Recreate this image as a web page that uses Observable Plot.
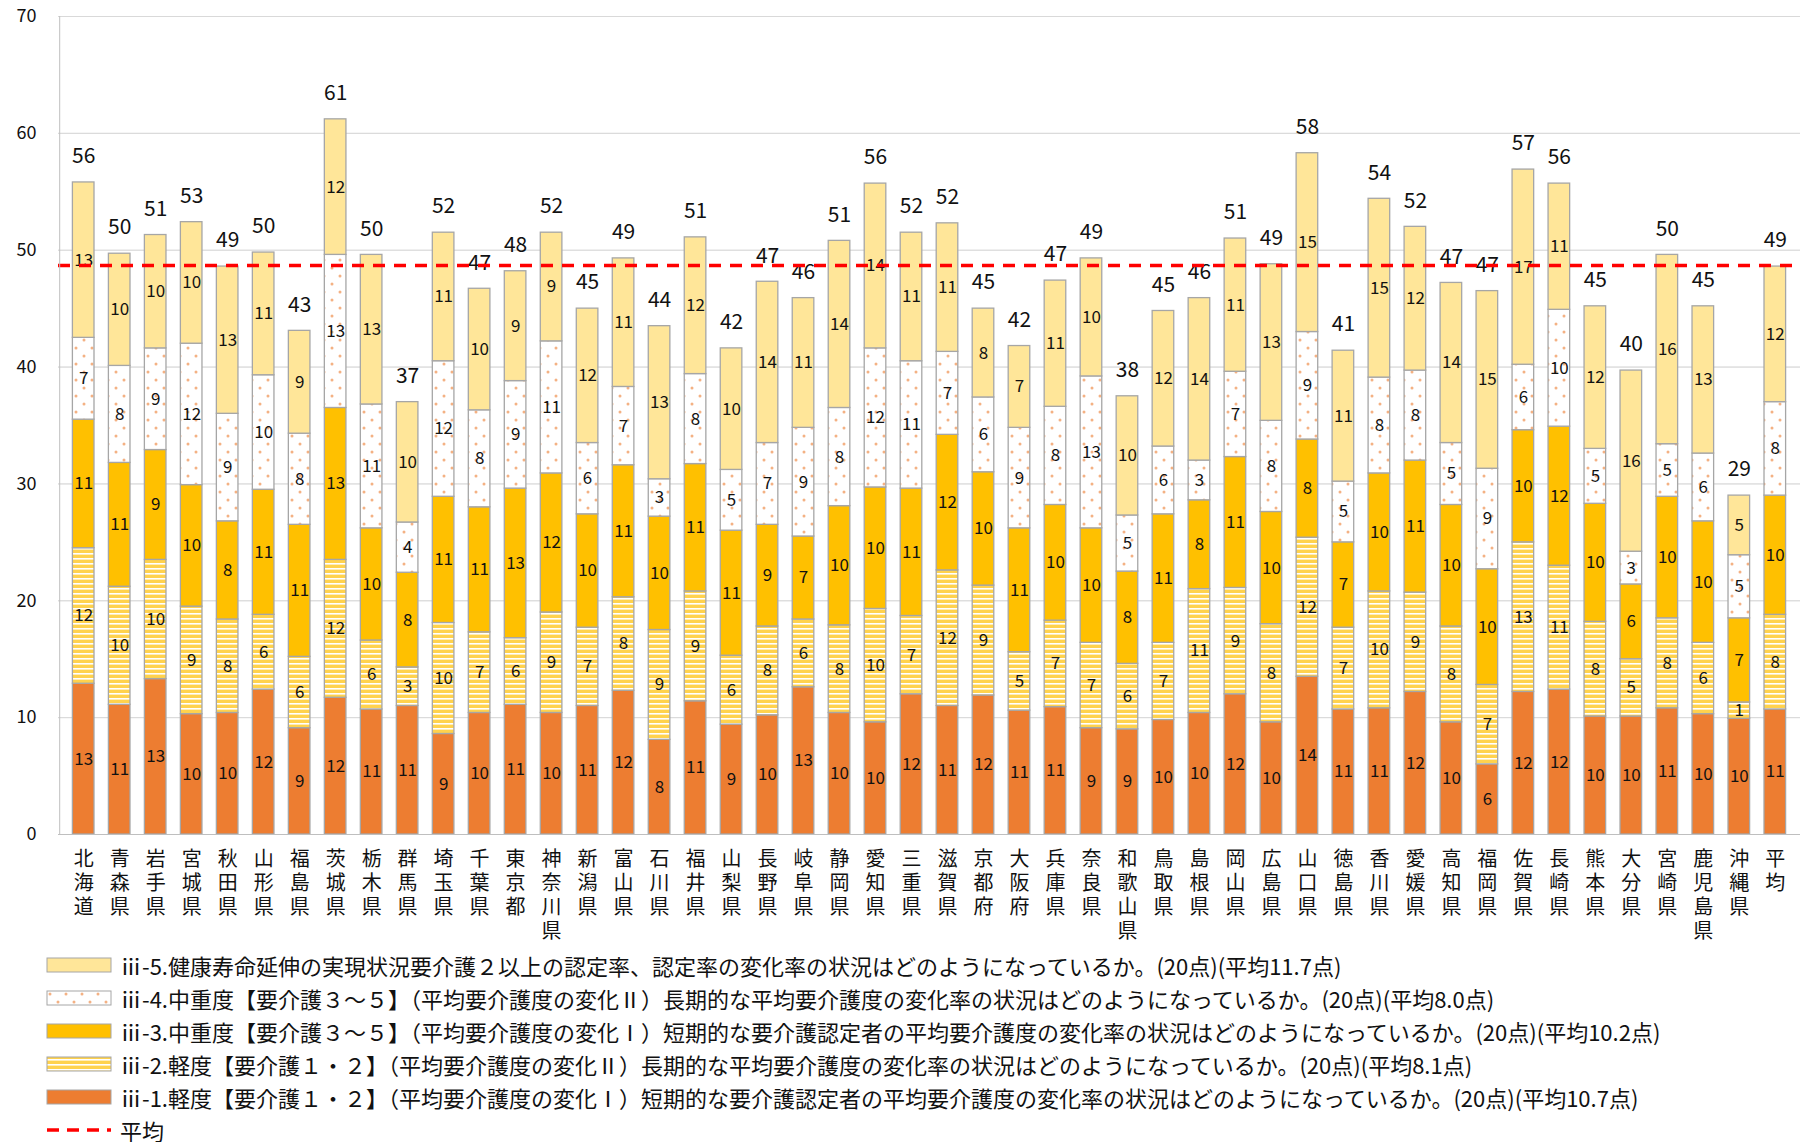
<!DOCTYPE html>
<html><head><meta charset="utf-8">
<script src="https://cdn.jsdelivr.net/npm/d3@7"></script>
<script src="https://cdn.jsdelivr.net/npm/@observablehq/plot@0.6"></script>
<style>
body{margin:0;background:#fff;font-family:"Noto Sans CJK JP","Noto Sans",sans-serif;}
#legend{margin-left:46px;margin-top:-2px;font-size:22px;color:#111;}
.row{display:flex;align-items:center;height:33px;}
.row svg{margin-right:8px;}
</style></head><body>
<div id="chart"></div>
<div id="legend"></div>
<script>
const prefs = ["北海道","青森県","岩手県","宮城県","秋田県","山形県","福島県","茨城県","栃木県","群馬県","埼玉県","千葉県","東京都","神奈川県","新潟県","富山県","石川県","福井県","山梨県","長野県","岐阜県","静岡県","愛知県","三重県","滋賀県","京都府","大阪府","兵庫県","奈良県","和歌山県","鳥取県","島根県","岡山県","広島県","山口県","徳島県","香川県","愛媛県","高知県","福岡県","佐賀県","長崎県","熊本県","大分県","宮崎県","鹿児島県","沖縄県","平均"];
// iii-1 軽度 変化I
const s1 = [12.9,11.1,13.3,10.3,10.4,12.4,9.1,11.7,10.7,11.0,8.6,10.4,11.1,10.4,11.0,12.3,8.1,11.4,9.4,10.2,12.6,10.4,9.6,12.0,11.0,11.9,10.6,10.9,9.1,9.0,9.8,10.4,12.0,9.6,13.5,10.7,10.8,12.2,9.6,6.0,12.2,12.4,10.1,10.1,10.8,10.3,9.9,10.7];
// iii-2 軽度 変化II
const s2 = [11.6,10.1,10.2,9.2,8.0,6.4,6.1,11.8,5.9,3.3,9.5,6.9,5.7,8.6,6.7,8.0,9.4,9.4,5.9,7.6,5.8,7.5,9.7,6.7,11.6,9.4,5.0,7.4,7.3,5.6,6.6,10.6,9.1,8.4,11.9,7.0,10.0,8.5,8.2,6.8,12.8,10.6,8.1,4.9,7.7,6.1,1.4,8.1];
// iii-3 中重度 変化I
const s3 = [11.0,10.6,9.4,10.4,8.4,10.7,11.3,13.0,9.6,8.1,10.8,10.7,12.8,11.9,9.7,11.3,9.7,10.9,10.7,8.7,7.1,10.2,10.4,10.9,11.6,9.7,10.6,9.9,9.8,7.9,11.0,7.6,11.2,9.6,8.4,7.3,10.1,11.3,10.4,9.9,9.6,11.9,10.1,6.4,10.4,10.4,7.2,10.2];
// iii-4 中重度 変化II
const s4 = [7.0,8.3,8.7,12.1,9.2,9.8,7.8,13.1,10.6,4.3,11.6,8.3,9.2,11.3,6.1,6.7,3.2,7.7,5.2,7.0,9.3,8.4,11.9,10.9,7.1,6.4,8.6,8.4,13.0,4.8,5.8,3.4,7.3,7.8,9.2,5.2,8.2,7.7,5.3,8.6,5.6,10.0,4.7,2.8,4.5,5.8,5.4,8.0];
// iii-5 健康寿命延伸
const s5 = [13.3,9.6,9.7,10.4,12.6,10.5,8.8,11.6,12.8,10.3,11.0,10.4,9.4,9.3,11.5,11.0,13.1,11.7,10.4,13.8,11.1,14.3,14.1,11.0,11.0,7.6,7.0,10.8,10.1,10.2,11.6,13.9,11.4,13.4,15.3,11.2,15.3,12.3,13.7,15.2,16.7,10.8,12.2,15.5,16.2,12.6,5.1,11.6];
const totals = [56,50,51,53,49,50,43,61,50,37,52,47,48,52,45,49,44,51,42,47,46,51,56,52,52,45,42,47,49,38,45,46,51,49,58,41,54,52,47,47,57,56,45,40,50,45,29,49];
const avg = 48.7;
const keys = ["iii-1","iii-2","iii-3","iii-4","iii-5"];
const legendTexts = [
 "ⅲ-5.健康寿命延伸の実現状況要介護２以上の認定率、認定率の変化率の状況はどのようになっているか。(20点)(平均11.7点)",
 "ⅲ-4.中重度【要介護３～５】（平均要介護度の変化Ⅱ）長期的な平均要介護度の変化率の状況はどのようになっているか。(20点)(平均8.0点)",
 "ⅲ-3.中重度【要介護３～５】（平均要介護度の変化Ⅰ）短期的な要介護認定者の平均要介護度の変化率の状況はどのようになっているか。(20点)(平均10.2点)",
 "ⅲ-2.軽度【要介護１・２】（平均要介護度の変化Ⅱ）長期的な平均要介護度の変化率の状況はどのようになっているか。(20点)(平均8.1点)",
 "ⅲ-1.軽度【要介護１・２】（平均要介護度の変化Ⅰ）短期的な要介護認定者の平均要介護度の変化率の状況はどのようになっているか。(20点)(平均10.7点)"
];
const fills = ["#ED7D31","url(#stripe)","#FFC000","url(#dots)","#FFE699"];

const series = [s1,s2,s3,s4,s5];
const rows = [];
prefs.forEach((p,i) => series.forEach((s,k) => rows.push({pref:p, key:keys[k], v:s[i]})));
const tops = prefs.map((p,i) => ({pref:p, t:totals[i], y:series.reduce((a,s)=>a+s[i],0)}));

const defs = `<defs>
<pattern id="stripe" width="8" height="5" patternUnits="userSpaceOnUse"><rect width="8" height="5" fill="#FFD24D"/><rect y="3" width="8" height="1.6" fill="#fff"/></pattern>
<pattern id="dots" width="16" height="16" patternUnits="userSpaceOnUse"><rect width="16" height="16" fill="#fff"/><circle cx="4" cy="4" r="1.5" fill="#F4B183"/><circle cx="12" cy="12" r="1.5" fill="#F4B183"/></pattern>
</defs>`;

const chart = Plot.plot({
  width: 1808, height: 950,
  marginTop: 16, marginBottom: 116, marginLeft: 58, marginRight: 8,
  style: {fontFamily: '"Noto Sans CJK JP", sans-serif', fontSize: "18px", color: "#111"},
  x: {domain: prefs, padding: 0.4, label: null, tickSize: 0, tickPadding: 12},
  y: {domain: [0,70], ticks: d3.range(0,71,10), label: null, tickSize: 0, tickPadding: 22, grid: true},
  color: {domain: keys, range: fills},
  marks: [
    Plot.gridY(d3.range(10,71,10), {stroke: "#d9d9d9", strokeOpacity: 1}),
    Plot.axisX({tickFormat: d => d.split("").join("\n"), fontSize: 20, lineHeight: 1.2, tickSize: 0, tickPadding: 14}),
    Plot.barY(rows, {x: "pref", y: "v", fill: "key", stroke: "#a6a6a6", strokeWidth: 1.3}),
    Plot.text(rows, Plot.stackY({x: "pref", y: "v", text: d => Math.round(d.v), fontSize: 17, fill: "#111"})),
    Plot.text(tops, {x: "pref", y: "y", text: "t", dy: -26, fontSize: 21, fill: "#111"}),
    Plot.ruleY([avg], {stroke: "#FF0000", strokeWidth: 3.5, strokeDasharray: "12,9"}),
    Plot.ruleX([prefs[0]], {dx: -24, stroke: "#bfbfbf"}),
    Plot.ruleY([0], {stroke: "#bfbfbf"})
  ]
});
chart.insertAdjacentHTML("afterbegin", defs);
document.getElementById("chart").append(chart);

const lg = document.getElementById("legend");
const swatchFill = [fills[4],fills[3],fills[2],fills[1],fills[0]];
legendTexts.forEach((t,i) => {
  const r = document.createElement("div"); r.className = "row";
  r.innerHTML = `<svg width="66" height="16">${defs}<rect x="1" y="1" width="64" height="14" fill="${swatchFill[i]}" stroke="#a6a6a6"/></svg><span>${t}</span>`;
  lg.append(r);
});
const r = document.createElement("div"); r.className = "row";
r.innerHTML = `<svg width="66" height="16"><line x1="1" x2="65" y1="8" y2="8" stroke="#FF0000" stroke-width="3.5" stroke-dasharray="12,8"/></svg><span>平均</span>`;
lg.append(r);
</script></body></html>
